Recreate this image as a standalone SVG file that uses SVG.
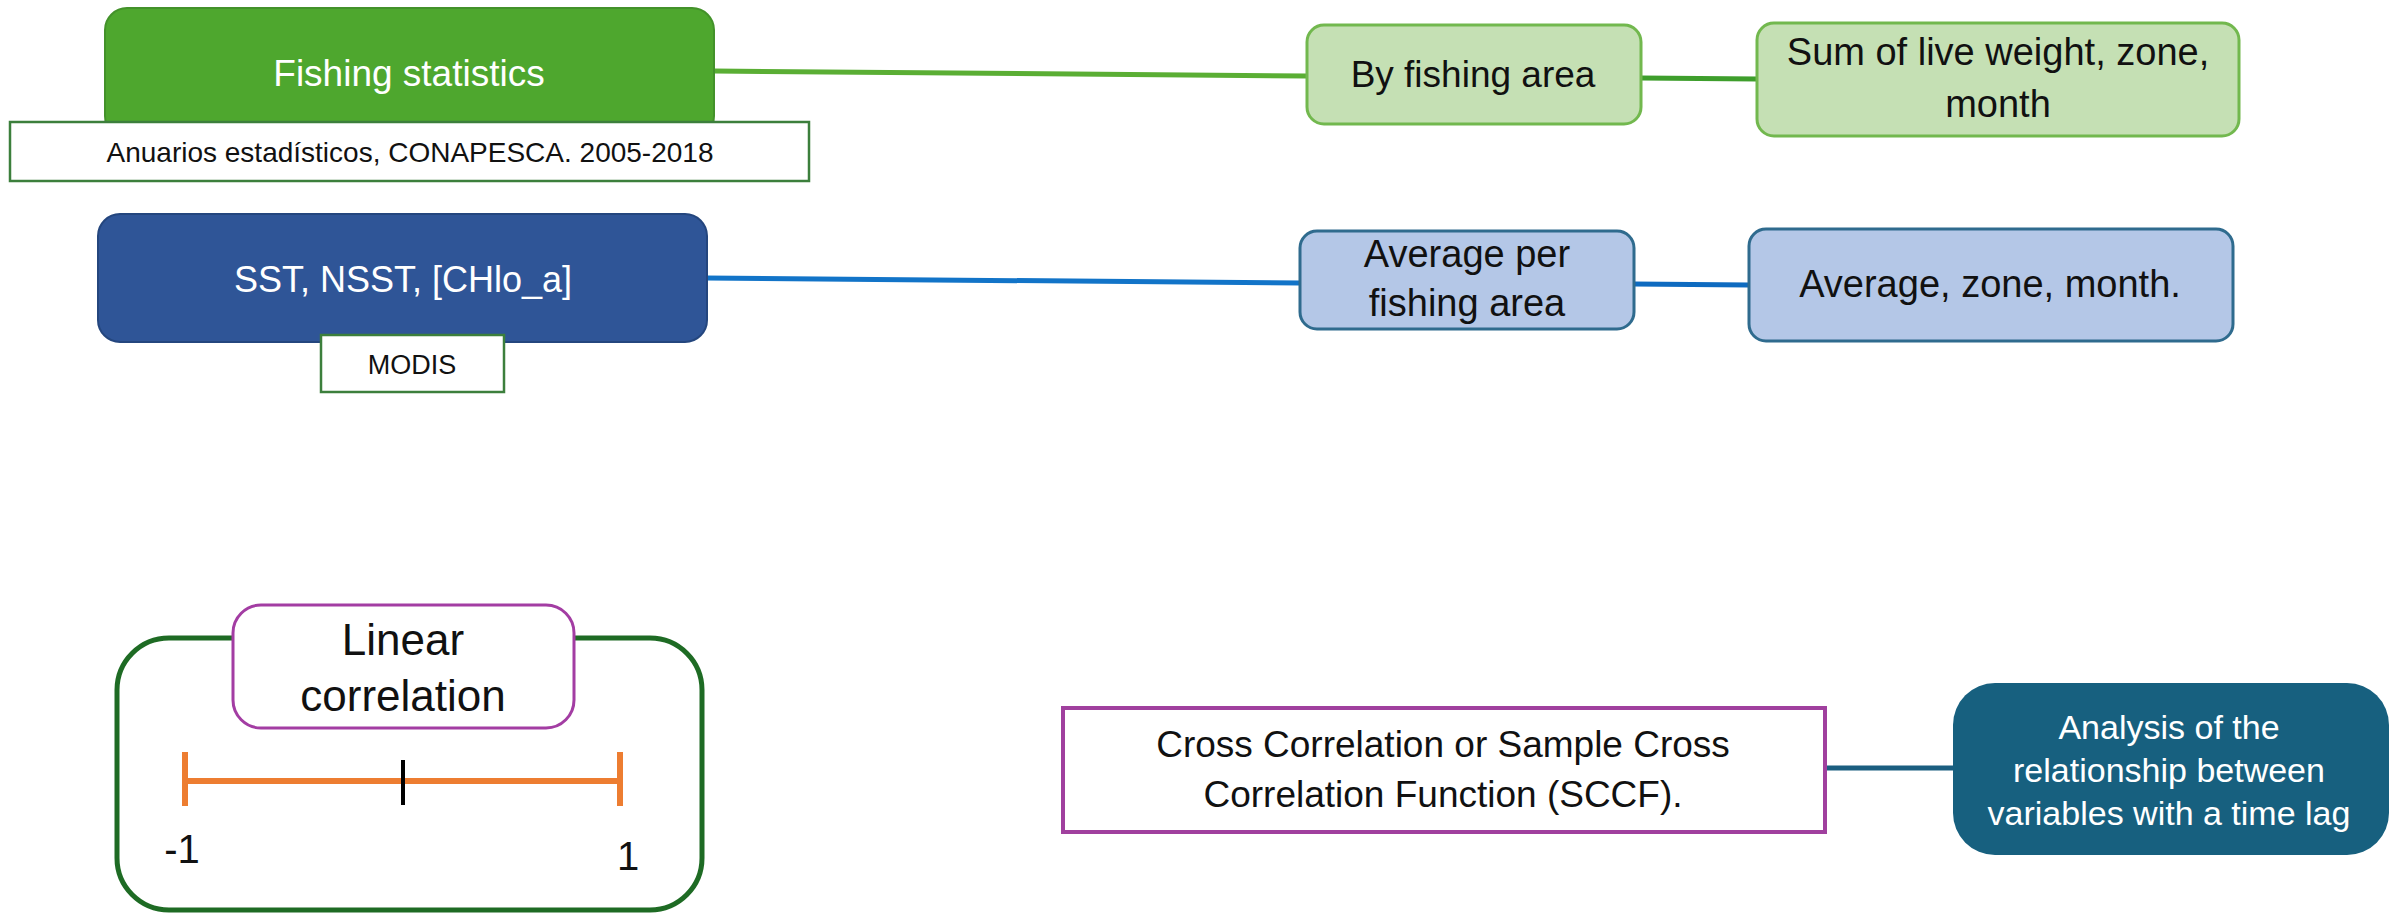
<svg xmlns="http://www.w3.org/2000/svg" width="2397" height="913" viewBox="0 0 2397 913">
<style>
text{font-family:"Liberation Sans",Arial,sans-serif;text-anchor:middle;fill:#111}
.w{fill:#fff}
.lg{fill:#C5E0B4;stroke:#72B84E;stroke-width:3}
.lb{fill:#B4C7E7;stroke:#2F6B8E;stroke-width:3}
.note{fill:#fff;stroke:#3C7F3C;stroke-width:2.5}
.conn{fill:none;stroke-width:5;stroke-linecap:butt}
</style>
<rect width="2397" height="913" fill="#fff"/>
<g id="connectors">
<line class="conn" x1="714" y1="71" x2="1307" y2="76" stroke="#5AAE34"/>
<line class="conn" x1="1641" y1="78" x2="1757" y2="79" stroke="#3E9E2C"/>
<line class="conn" x1="706" y1="278" x2="1300" y2="283" stroke="#1274C8"/>
<line class="conn" x1="1634" y1="284" x2="1749" y2="285" stroke="#0E6BC0"/>
<line class="conn" x1="1825" y1="768" x2="1953" y2="768" stroke="#1B5E80" stroke-width="6"/>
</g>
<g id="fishing-statistics">
<rect x="105" y="8" width="609" height="130" rx="22" fill="#4EA72E" stroke="#43922A" stroke-width="2"/>
<text class="w" x="409" y="86" font-size="37">Fishing statistics</text>
</g>
<g id="anuarios">
<rect class="note" x="10" y="122" width="799" height="59"/>
<text x="410" y="162" font-size="28">Anuarios estadísticos, CONAPESCA. 2005-2018</text>
</g>
<g id="sst">
<rect x="98" y="214" width="609" height="128" rx="22" fill="#2F5597" stroke="#24467E" stroke-width="2"/>
<text class="w" x="403" y="292" font-size="36">SST, NSST, [CHlo_a]</text>
</g>
<g id="modis">
<rect class="note" x="321" y="335" width="183" height="57"/>
<text x="412" y="374" font-size="27">MODIS</text>
</g>
<g id="by-fishing-area">
<rect class="lg" x="1307" y="25" width="334" height="99" rx="17"/>
<text x="1473" y="87" font-size="37">By fishing area</text>
</g>
<g id="sum-live-weight">
<rect class="lg" x="1757" y="23" width="482" height="113" rx="17"/>
<text x="1998" y="65" font-size="38">Sum of live weight, zone,</text>
<text x="1998" y="117" font-size="38">month</text>
</g>
<g id="average-per-area">
<rect class="lb" x="1300" y="231" width="334" height="98" rx="17"/>
<text x="1467" y="267" font-size="38">Average per</text>
<text x="1467" y="316" font-size="38">fishing area</text>
</g>
<g id="average-zone-month">
<rect class="lb" x="1749" y="229" width="484" height="112" rx="17"/>
<text x="1990" y="297" font-size="38">Average, zone, month.</text>
</g>
<g id="linear-correlation">
<rect x="117" y="638" width="585" height="272" rx="52" fill="#fff" stroke="#1E6B24" stroke-width="5"/>
<rect x="233" y="605" width="341" height="123" rx="28" fill="#fff" stroke="#A33DA3" stroke-width="3"/>
<text x="403" y="655" font-size="44">Linear</text>
<text x="403" y="711" font-size="44">correlation</text>
<g stroke="#ED7D31" stroke-width="6" fill="none">
<line x1="185" y1="781" x2="620" y2="781"/>
<line x1="185" y1="752" x2="185" y2="806"/>
<line x1="620" y1="752" x2="620" y2="806"/>
</g>
<line x1="403" y1="760" x2="403" y2="805" stroke="#000" stroke-width="4"/>
<text x="182" y="863" font-size="40">-1</text>
<text x="628" y="870" font-size="40">1</text>
</g>
<g id="cross-correlation">
<rect x="1063" y="708" width="762" height="124" fill="#fff" stroke="#A0409E" stroke-width="4"/>
<text x="1443" y="757" font-size="37">Cross Correlation or Sample Cross</text>
<text x="1443" y="807" font-size="37">Correlation Function (SCCF).</text>
</g>
<g id="analysis">
<rect x="1953" y="683" width="436" height="172" rx="42" fill="#17607F"/>
<text class="w" x="2169" y="739" font-size="34">Analysis of the</text>
<text class="w" x="2169" y="782" font-size="34">relationship between</text>
<text class="w" x="2169" y="825" font-size="34">variables with a time lag</text>
</g>
</svg>
